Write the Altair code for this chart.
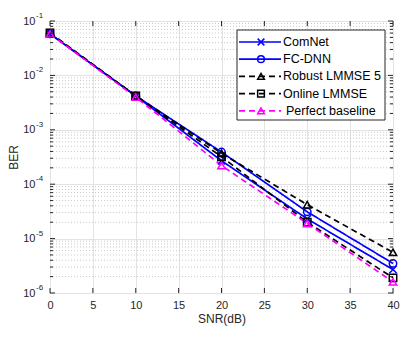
import altair as alt
import pandas as pd

snr = [0, 10, 20, 30, 40]
series_names = ["ComNet", "FC-DNN", "Robust LMMSE 5", "Online LMMSE", "Perfect baseline"]
comnet = [0.058, 0.0042, 2.7e-4, 2.3e-5, 2.7e-6]
fcdnn = [0.058, 0.0042, 3.9e-4, 3.1e-5, 3.5e-6]
robust = [0.060, 0.0042, 3.7e-4, 4.2e-5, 5.6e-6]
online = [0.060, 0.0042, 3.2e-4, 2.0e-5, 1.9e-6]
perfect = [0.058, 0.0040, 2.2e-4, 1.9e-5, 1.6e-6]
series_values = [comnet, fcdnn, robust, online, perfect]

x_ticks = [0, 5, 10, 15, 20, 25, 30, 35, 40]
y_ticks = [1e-6, 1e-5, 1e-4, 1e-3, 1e-2, 1e-1]
y_exponents = ["-6", "-5", "-4", "-3", "-2", "-1"]

colors = ["#0000FF", "#0000FF", "#000000", "#000000", "#FF00FF"]
dashes = [[1, 0], [1, 0], [6, 4], [6, 4], [6, 4]]
xshape = "M-1,-1L1,1M-1,1L1,-1"
shapes = [xshape, "circle", "triangle-up", "square", "triangle-up"]

W, H = 343, 272
FONT = "Liberation Sans"
TXT = "#262626"

rows = []
for name, vals in zip(series_names, series_values):
    for s, v in zip(snr, vals):
        rows.append({"snr": s, "ber": v, "series": name})
df = pd.DataFrame(rows)

minor = [m * 10.0 ** d for d in range(-6, -1) for m in range(2, 10)]
minor_df = pd.DataFrame({"v": minor})
major_df = pd.DataFrame({"v": y_ticks, "e": y_exponents})
xt_df = pd.DataFrame({"x": x_ticks})

xscale = alt.Scale(domain=[0, 40], nice=False)
yscale = alt.Scale(type="log", domain=[1e-6, 1e-1], nice=False)

xenc = alt.X("snr:Q", scale=xscale, title="SNR(dB)",
             axis=alt.Axis(values=x_ticks, grid=True, gridColor="#e3e3e3", domain=False,
                           ticks=False, tickSize=0, labelPadding=6, labelFontSize=11,
                           labelFlush=False,
                           labelFont=FONT, labelColor=TXT, titleFont=FONT, titleFontSize=12,
                           titleFontWeight="normal", titleColor=TXT, titlePadding=3))
yenc = alt.Y("ber:Q", scale=yscale, title="BER",
             axis=alt.Axis(values=y_ticks, grid=True, gridColor="#e3e3e3", domain=False,
                           ticks=False, tickSize=0, labelPadding=15, labelFontSize=11,
                           labelFlush=False,
                           labelFont=FONT, labelColor=TXT, labelExpr="'10'",
                           titleFont=FONT, titleFontSize=12, titleFontWeight="normal",
                           titleColor=TXT, titlePadding=2))

minor_grid = alt.Chart(minor_df).mark_rule(color="#c8c8c8", strokeDash=[1, 2], strokeWidth=1).encode(
    y=alt.Y("v:Q", scale=yscale), x=alt.value(0), x2=alt.value(W))

exp_text = alt.Chart(major_df).mark_text(align="left", baseline="middle", fontSize=8, font=FONT,
                                          color=TXT, dy=-5).encode(
    y=alt.Y("v:Q", scale=yscale), x=alt.value(-14), text="e:N")

tick_layers = [
    alt.Chart(major_df).mark_rule(color=TXT).encode(y=alt.Y("v:Q", scale=yscale), x=alt.value(0), x2=alt.value(5)),
    alt.Chart(major_df).mark_rule(color=TXT).encode(y=alt.Y("v:Q", scale=yscale), x=alt.value(W - 5), x2=alt.value(W)),
    alt.Chart(minor_df).mark_rule(color=TXT).encode(y=alt.Y("v:Q", scale=yscale), x=alt.value(0), x2=alt.value(3)),
    alt.Chart(minor_df).mark_rule(color=TXT).encode(y=alt.Y("v:Q", scale=yscale), x=alt.value(W - 3), x2=alt.value(W)),
    alt.Chart(xt_df).mark_rule(color=TXT).encode(x=alt.X("x:Q", scale=xscale), y=alt.value(H - 5), y2=alt.value(H)),
    alt.Chart(xt_df).mark_rule(color=TXT).encode(x=alt.X("x:Q", scale=xscale), y=alt.value(0), y2=alt.value(5)),
]

lines = alt.Chart(df).mark_line(strokeWidth=1.7).encode(
    x=xenc, y=yenc,
    color=alt.Color("series:N", scale=alt.Scale(domain=series_names, range=colors), legend=None),
    strokeDash=alt.StrokeDash("series:N", scale=alt.Scale(domain=series_names, range=dashes), legend=None),
    detail="series:N")

points = alt.Chart(df).mark_point(filled=False, strokeWidth=1.5, size=55, opacity=1).encode(
    x=alt.X("snr:Q", scale=xscale), y=alt.Y("ber:Q", scale=yscale),
    color=alt.Color("series:N", scale=alt.Scale(domain=series_names, range=colors), legend=None),
    shape=alt.Shape("series:N", scale=alt.Scale(domain=series_names, range=shapes), legend=None))

one = pd.DataFrame({"a": [0]})
legend_layers = [
    alt.Chart(one).mark_rect(fill="white", stroke=TXT, strokeWidth=1).encode(
        x=alt.value(187), x2=alt.value(335), y=alt.value(9), y2=alt.value(99))
]
for i, name in enumerate(series_names):
    ly = 21 + i * 17.2
    legend_layers.append(alt.Chart(one).mark_rule(color=colors[i], strokeWidth=1.7, strokeDash=dashes[i]).encode(
        x=alt.value(189), x2=alt.value(231), y=alt.value(ly)))
    legend_layers.append(alt.Chart(one).mark_point(shape=shapes[i], filled=False, color=colors[i],
                                                   strokeWidth=1.5, size=45, opacity=1).encode(
        x=alt.value(211), y=alt.value(ly)))
    legend_layers.append(alt.Chart(one).mark_text(align="left", baseline="middle", fontSize=12.5, font=FONT,
                                                  color="#000000").encode(
        x=alt.value(233 if i < 4 else 236), y=alt.value(ly), text=alt.value(name)))

chart = alt.layer(minor_grid, lines, points, *tick_layers, exp_text, *legend_layers).properties(
    width=W, height=H,
    autosize=alt.AutoSizeParams(type="none"),
    padding={"left": 42, "top": 13, "right": 14, "bottom": 37},
    background="white",
).configure_view(stroke=TXT, strokeWidth=1)

chart.save("out.html", embed_options={"renderer": "svg", "actions": False})
